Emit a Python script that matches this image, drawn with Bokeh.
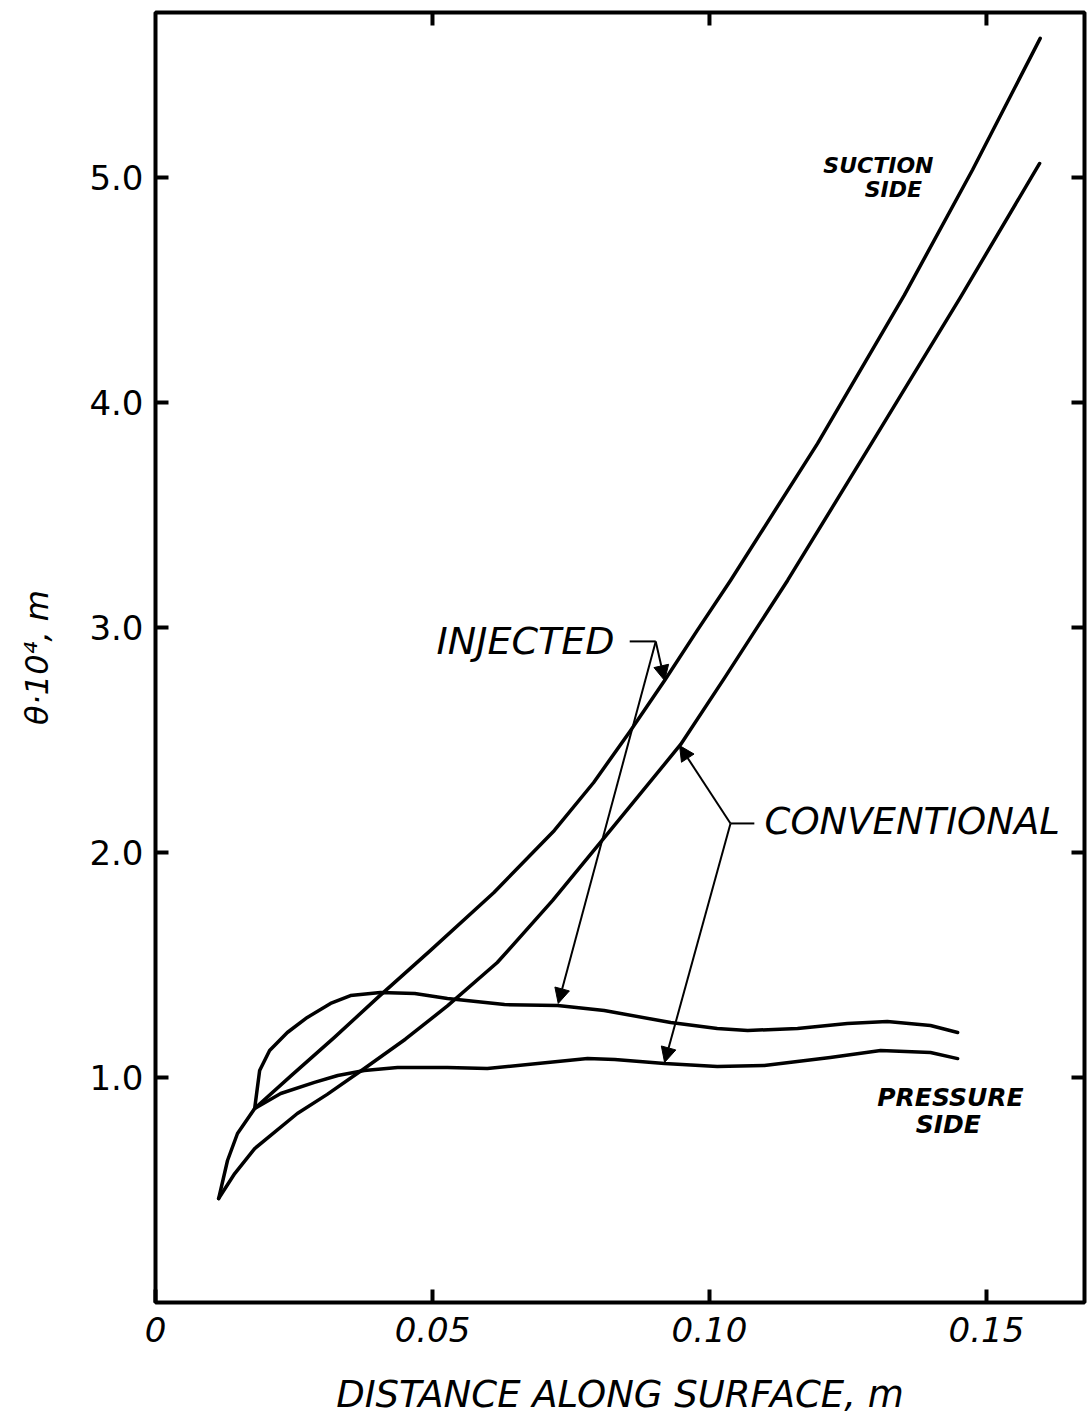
import math
from bokeh.plotting import figure
from bokeh.models import (Range1d, LinearAxis, FixedTicker, Arrow, Label,
                          NormalHead, NumeralTickFormatter)
from bokeh.embed import file_html
from bokeh.resources import INLINE

# ---------------- data ----------------
x_ticks = [0.0, 0.05, 0.10, 0.15]
x_tick_labels = ["0", "0.05", "0.10", "0.15"]
y_ticks = [1.0, 2.0, 3.0, 4.0, 5.0]

# suction side, injected
inj_suc_x = [0.0179, 0.0244, 0.0323, 0.0401, 0.0496, 0.0611, 0.0720, 0.0791,
             0.0857, 0.0919, 0.0978, 0.1038, 0.1195, 0.1352, 0.1475, 0.1597]
inj_suc_y = [0.862, 1.006, 1.178, 1.355, 1.564, 1.822, 2.098, 2.311,
             2.540, 2.764, 2.987, 3.209, 3.817, 4.478, 5.034, 5.618]

# suction side, conventional
con_suc_x = [0.0114, 0.0143, 0.0179, 0.0256, 0.0310, 0.0377, 0.0451, 0.0527,
             0.0617, 0.0717, 0.0821, 0.0948, 0.1027, 0.1141, 0.1298, 0.1453, 0.1596]
con_suc_y = [0.462, 0.573, 0.684, 0.840, 0.925, 1.040, 1.170, 1.318,
             1.511, 1.787, 2.098, 2.480, 2.775, 3.209, 3.840, 4.467, 5.062]

# pressure side, injected
inj_pre_x = [0.0179, 0.0188, 0.0206, 0.0238, 0.0274, 0.0316, 0.0352, 0.0406,
             0.0468, 0.0527, 0.0630, 0.0726, 0.0810, 0.0930, 0.1014, 0.1069,
             0.1159, 0.1249, 0.1321, 0.1399, 0.1448]
inj_pre_y = [0.862, 1.031, 1.120, 1.200, 1.267, 1.329, 1.364, 1.378,
             1.373, 1.351, 1.324, 1.320, 1.298, 1.244, 1.218, 1.209,
             1.218, 1.240, 1.249, 1.231, 1.200]

# pressure side, conventional
con_pre_x = [0.0114, 0.0130, 0.0148, 0.0179, 0.0226, 0.0287, 0.0329, 0.0377,
             0.0437, 0.0527, 0.0599, 0.0690, 0.0780, 0.0829, 0.0919, 0.1014,
             0.1099, 0.1218, 0.1309, 0.1399, 0.1448]
con_pre_y = [0.462, 0.631, 0.751, 0.862, 0.929, 0.978, 1.009, 1.031,
             1.044, 1.044, 1.040, 1.062, 1.084, 1.080, 1.062, 1.049,
             1.053, 1.089, 1.120, 1.111, 1.084]

X_MAX = 0.1677
Y_MAX = 5.733

# ---------------- figure ----------------
p = figure(width=1089, height=1419, output_backend="svg", toolbar_location=None,
           x_range=Range1d(0, X_MAX), y_range=Range1d(0, Y_MAX),
           min_border_left=155, min_border_right=5, min_border_top=12,
           min_border_bottom=117, x_axis_location=None, y_axis_location=None)
p.xgrid.visible = False
p.ygrid.visible = False
p.background_fill_color = "white"
p.border_fill_color = "white"
p.outline_line_color = "black"
p.outline_line_width = 4

FONT = "DejaVu Sans"


def style_axis(ax, ticks):
    ax.ticker = FixedTicker(ticks=ticks)
    ax.axis_line_color = None
    ax.major_tick_in = 13
    ax.major_tick_out = 0
    ax.major_tick_line_width = 4
    ax.minor_tick_line_color = None
    ax.major_label_text_font = FONT
    ax.major_label_text_font_size = "34px"
    ax.major_label_text_color = "black"
    ax.axis_label_text_font = FONT
    ax.axis_label_text_font_style = "italic"
    ax.axis_label_text_color = "black"


xb = LinearAxis(axis_label="DISTANCE ALONG SURFACE, m")
style_axis(xb, x_ticks)
xb.major_label_overrides = {t: s for t, s in zip(x_ticks, x_tick_labels)}
xb.major_label_text_font_style = "italic"
xb.major_label_standoff = 14
xb.axis_label_text_font_size = "37px"
xb.axis_label_standoff = 28
p.add_layout(xb, "below")

yl = LinearAxis(axis_label="\u03b8\u00b710\u2074, m")
style_axis(yl, y_ticks)
yl.formatter = NumeralTickFormatter(format="0.0")
yl.major_label_standoff = 12
yl.axis_label_text_font_size = "32px"
yl.axis_label_standoff = 30
p.add_layout(yl, "left")

# inward ticks on the right and top edges (no labels)
TICK_DX = 13 / 5540.0
TICK_DY = 13 / 225.0
p.segment(x0=[X_MAX] * len(y_ticks), y0=y_ticks,
          x1=[X_MAX - TICK_DX] * len(y_ticks), y1=y_ticks,
          line_color="black", line_width=4)
top_ticks = x_ticks[1:]
p.segment(x0=top_ticks, y0=[Y_MAX] * len(top_ticks),
          x1=top_ticks, y1=[Y_MAX - TICK_DY] * len(top_ticks),
          line_color="black", line_width=4)

# ---------------- curves ----------------
for xs, ys in [(inj_suc_x, inj_suc_y), (con_suc_x, con_suc_y),
               (inj_pre_x, inj_pre_y), (con_pre_x, con_pre_y)]:
    p.line(xs, ys, line_color="black", line_width=3.5, line_join="round",
           line_cap="round")

# ---------------- annotations ----------------
def head():
    return NormalHead(size=15, fill_color="black", line_color="black", line_width=1)

# INJECTED leader
p.segment(x0=[0.0856], y0=[2.938], x1=[0.0903], y1=[2.938], line_color="black", line_width=2)
p.add_layout(Arrow(end=head(), x_start=0.0903, y_start=2.938, x_end=0.0919, y_end=2.764,
                   line_color="black", line_width=2))
p.add_layout(Arrow(end=head(), x_start=0.0903, y_start=2.938, x_end=0.0727, y_end=1.329,
                   line_color="black", line_width=2))

# CONVENTIONAL leader
p.segment(x0=[0.1038], y0=[2.129], x1=[0.1081], y1=[2.129], line_color="black", line_width=2)
p.add_layout(Arrow(end=head(), x_start=0.1038, y_start=2.129, x_end=0.0946, y_end=2.475,
                   line_color="black", line_width=2))
p.add_layout(Arrow(end=head(), x_start=0.1038, y_start=2.129, x_end=0.0919, y_end=1.067,
                   line_color="black", line_width=2))


def lab(text, x, y, size, style="italic"):
    p.add_layout(Label(x=x, y=y, text=text, text_font=FONT, text_font_size=size,
                       text_font_style=style, text_align="center",
                       text_baseline="middle", text_color="black"))


lab("INJECTED", 0.0668, 2.938, "38px")
lab("CONVENTIONAL", 0.1366, 2.138, "37px")
lab("SUCTION", 0.1305, 5.053, "22px", "bold italic")
lab("SIDE", 0.1332, 4.947, "22px", "bold italic")
lab("PRESSURE", 0.1435, 0.911, "25px", "bold italic")
lab("SIDE", 0.1431, 0.791, "25px", "bold italic")

open("out.html", "w").write(file_html(p, INLINE))
